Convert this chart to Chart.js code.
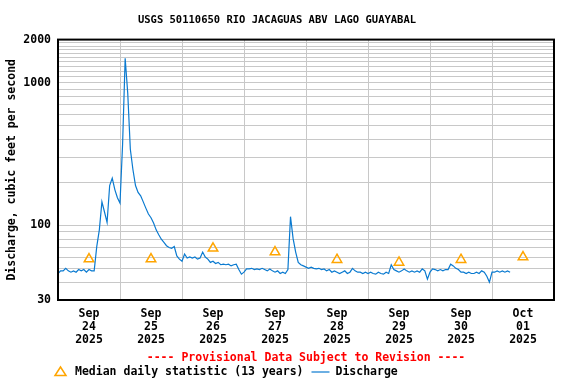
<!DOCTYPE html>
<html>
<head>
<meta charset="utf-8">
<script src="https://cdn.jsdelivr.net/npm/chart.js@4.4.0/dist/chart.umd.min.js"></script>
<style>
  html, body { margin: 0; padding: 0; background: #fff; }
  canvas { display: block; }
</style>
</head>
<body>
<canvas id="myChart" width="576" height="384"></canvas>
<script>
const chartTitle = "USGS 50110650 RIO JACAGUAS ABV LAGO GUAYABAL";
const dayLabels = [
  ["Sep", "24", "2025"], ["Sep", "25", "2025"], ["Sep", "26", "2025"], ["Sep", "27", "2025"],
  ["Sep", "28", "2025"], ["Sep", "29", "2025"], ["Sep", "30", "2025"], ["Oct", "01", "2025"]
];
// median daily statistic, at noon of each day (hours since Sep 24 00:00)
const medianHours = [12, 36, 60, 84, 108, 132, 156, 180];
const medianValues = [58, 58, 69, 65, 57.5, 55, 57.5, 60];
// hourly discharge (ft3/s) starting Sep 24 00:00
const discharge = [
  46, 48, 48, 50, 48, 47, 48, 47, 49, 48, 49, 47, 49, 48, 48, 71, 93, 146, 124, 105, 190, 214, 178, 156,
  143, 368, 1480, 840, 341, 246, 190, 170, 161, 146, 132, 120, 113, 104, 93, 86, 80, 76, 72, 70, 69, 71, 61, 58,
  56, 63, 59, 60, 59, 60, 58, 59, 65, 60, 58, 55, 56, 54, 55, 53, 53.5, 53, 53.5, 52, 53, 53.5, 49, 45.5,
  47, 49.5, 49.5, 50, 49, 49.5, 49, 50, 49, 48, 49.5, 48, 47, 48, 46, 47, 46, 49, 115, 81, 65, 55, 53, 52,
  51, 50, 51, 50, 49.5, 50, 49, 49.5, 48, 49, 47, 48, 47, 46, 47, 48, 46, 47, 50, 48, 47, 47, 46, 47,
  46, 47, 46, 45.5, 47, 46, 45.5, 47, 46, 53, 49, 48, 47, 48, 49.5, 48, 47, 48, 47, 48, 47, 49.5, 48, 42,
  47, 49.5, 49, 48, 49, 48, 49, 49, 53.5, 52, 50, 49, 47, 47, 46, 47, 46, 46, 47, 46, 48, 47, 44, 40,
  47, 47, 48, 47, 48, 47, 48, 47
];
const yGridValues = [30, 40, 50, 60, 70, 80, 90, 100, 200, 300, 400, 500, 600, 700, 800, 900,
  1000, 1100, 1200, 1300, 1400, 1500, 1600, 1700, 1800, 1900, 2000];
const yTickLabels = [30, 100, 1000, 2000];
const xTickHours = [0, 12, 24, 36, 48, 60, 72, 84, 96, 108, 120, 132, 144, 156, 168, 180, 192];

const FONT = '"DejaVu Sans Mono", "Liberation Mono", monospace';
const GRID = "#c8c8c8";
const BLUE = "#0a7ad0";
const ORANGE = "#ffa500";
const medianLabel = "Median daily statistic (13 years)";

const ctx = document.getElementById("myChart").getContext("2d");

new Chart(ctx, {
  type: "line",
  data: {
    datasets: [
      {
        label: "Discharge",
        data: discharge.map((v, i) => ({ x: i, y: v })),
        borderColor: BLUE,
        borderWidth: 1.2,
        pointRadius: 0,
        tension: 0,
      },
      {
        label: medianLabel,
        data: medianHours.map((h, i) => ({ x: h, y: medianValues[i] })),
        showLine: false,
        pointStyle: "triangle",
        pointRadius: 5.5,
        pointBorderWidth: 1.5,
        pointBorderColor: ORANGE,
        pointBackgroundColor: "rgba(0,0,0,0)",
      },
    ],
  },
  options: {
    responsive: false,
    animation: false,
    devicePixelRatio: 1,
    layout: { padding: { top: 0, right: 22, bottom: 34, left: 0 } },
    plugins: {
      legend: { display: false },
      tooltip: { enabled: false },
      title: {
        display: true,
        text: chartTitle,
        color: "#000",
        font: { family: FONT, size: 10.5, weight: "bold" },
        padding: { top: 13.5, bottom: 13.5 },
      },
    },
    scales: {
      x: {
        type: "linear",
        min: 0,
        max: 192,
        afterBuildTicks(scale) {
          scale.ticks = xTickHours.map((v) => ({ value: v }));
        },
        afterFit(scale) {
          scale.height = 50;
        },
        border: { display: false },
        grid: {
          drawTicks: false,
          color: (c) => (c.tick && c.tick.value % 24 === 0 ? GRID : "rgba(0,0,0,0)"),
        },
        ticks: {
          autoSkip: false,
          maxRotation: 0,
          minRotation: 0,
          padding: 8,
          color: "#000",
          font: { family: FONT, size: 11.5, weight: "bold", lineHeight: 1.13 },
          callback: (value) => (value % 24 === 12 ? dayLabels[(value - 12) / 24] : ""),
        },
      },
      y: {
        type: "logarithmic",
        min: 30,
        max: 2000,
        afterBuildTicks(scale) {
          scale.ticks = yGridValues.map((v) => ({ value: v }));
        },
        afterFit(scale) {
          scale.width = 58;
        },
        border: { display: false },
        grid: { drawTicks: false, color: GRID },
        ticks: {
          autoSkip: false,
          padding: 7,
          color: "#000",
          font: { family: FONT, size: 11.5, weight: "bold" },
          callback: (value) => (yTickLabels.includes(value) ? String(value) : ""),
        },
        title: {
          display: true,
          text: "Discharge, cubic feet per second",
          color: "#000",
          font: { family: FONT, size: 11.5, weight: "bold" },
          padding: { top: 5, bottom: 0 },
        },
      },
    },
  },
  plugins: [
    {
      id: "frameAndFooter",
      afterDraw(chart) {
        const { ctx, chartArea } = chart;
        ctx.save();
        // black frame round the plot
        ctx.strokeStyle = "#000";
        ctx.lineWidth = 2;
        ctx.strokeRect(chartArea.left, chartArea.top, chartArea.right - chartArea.left, chartArea.bottom - chartArea.top);

        // provisional note
        ctx.font = "bold 11.5px " + FONT;
        ctx.textBaseline = "middle";
        ctx.textAlign = "center";
        ctx.fillStyle = "#ff0000";
        const cx = (chartArea.left + chartArea.right) / 2;
        ctx.fillText("---- Provisional Data Subject to Revision ----", cx, chartArea.bottom + 58);

        // legend row
        const ly = chartArea.bottom + 72;
        ctx.strokeStyle = ORANGE;
        ctx.lineWidth = 1.5;
        ctx.beginPath();
        ctx.moveTo(60.5, ly - 5);
        ctx.lineTo(66, ly + 3.5);
        ctx.lineTo(55, ly + 3.5);
        ctx.closePath();
        ctx.stroke();

        ctx.textAlign = "left";
        ctx.fillStyle = "#000";
        ctx.fillText(medianLabel, 75, ly);
        const lx = 75 + ctx.measureText(medianLabel).width + 8;
        ctx.strokeStyle = BLUE;
        ctx.lineWidth = 1.2;
        ctx.beginPath();
        ctx.moveTo(lx, ly);
        ctx.lineTo(lx + 18, ly);
        ctx.stroke();
        ctx.fillText("Discharge", lx + 24, ly);
        ctx.restore();
      },
    },
  ],
});
</script>
</body>
</html>
